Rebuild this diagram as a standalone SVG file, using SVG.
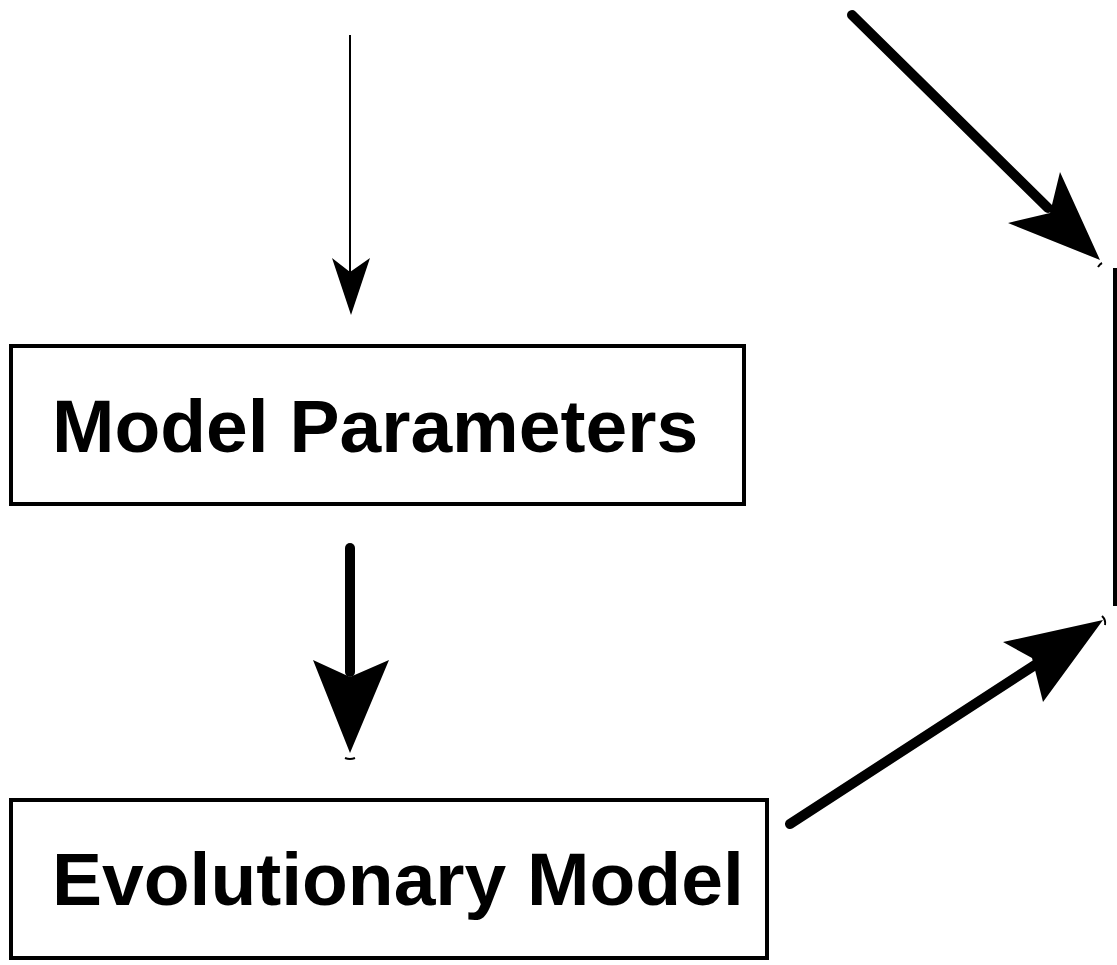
<svg xmlns="http://www.w3.org/2000/svg" width="1117" height="965" viewBox="0 0 1117 965">
<style>
.box{fill:#fff;stroke:#000;stroke-width:4}
.lbl{font-family:"Liberation Sans",Arial,sans-serif;font-weight:bold;font-size:75px;fill:#000}
.thin{stroke:#000;stroke-width:2;fill:none}
.thick{stroke:#000;stroke-width:10;fill:none;stroke-linecap:round}
.head{fill:#000;stroke:none}
.tick{stroke:#000;stroke-width:2;fill:none}
</style>
<rect width="1117" height="965" fill="#fff"/>
<g id="connectors">
<line class="thin" x1="350" y1="35" x2="350" y2="272"/>
<polygon class="head" points="332,258 350,272 370,258 351,315"/>
<line class="thick" x1="350" y1="548" x2="350" y2="672"/>
<polygon class="head" points="313,660 350,677 389,660 350,753"/>
<path class="tick" d="M345,758 Q350,760 355,758"/>
<line class="thick" x1="852" y1="15" x2="1048" y2="208"/>
<polygon class="head" points="1060,172 1050,213 1008,223 1100,260"/>
<path class="tick" d="M1098,267 Q1100,264 1102,263"/>
<line class="thick" x1="790" y1="824" x2="1035" y2="665"/>
<polygon class="head" points="1003,642 1032,658 1043,702 1103,620"/>
<path class="tick" d="M1102,616 Q1106,620 1105,625"/>
<line x1="1115" y1="268" x2="1115" y2="606" stroke="#000" stroke-width="4"/>
</g>
<g id="node-model-parameters">
<rect class="box" x="11" y="346" width="733" height="158"/>
<text class="lbl" x="52" y="452">Model Parameters</text>
</g>
<g id="node-evolutionary-model">
<rect class="box" x="11" y="800" width="756" height="158"/>
<text class="lbl" x="52" y="905">Evolutionary Model</text>
</g>
</svg>
